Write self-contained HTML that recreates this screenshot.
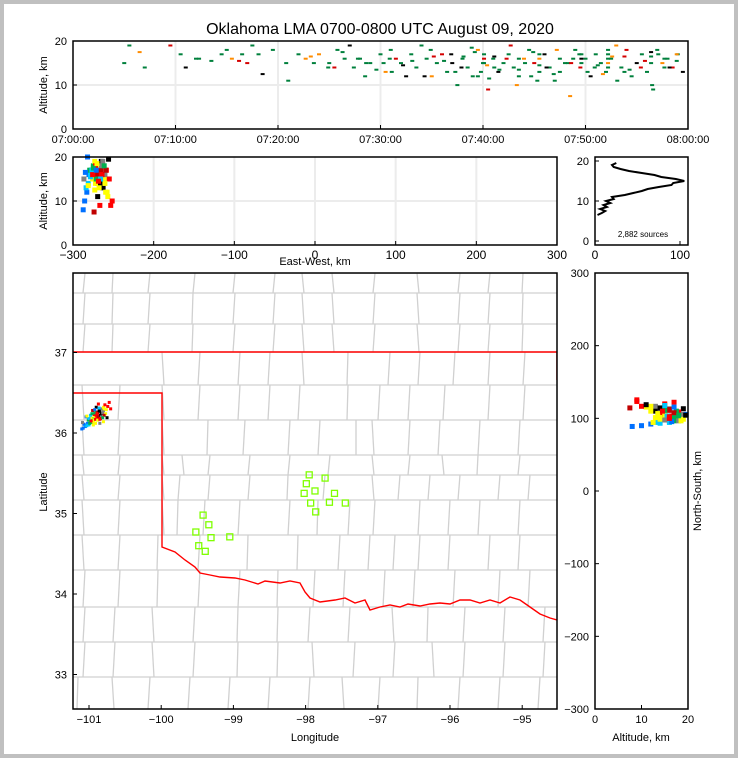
<!DOCTYPE html>
<html><head><meta charset="utf-8">
<style>
html,body{margin:0;padding:0;background:#c0c0c0}
#wrap{position:absolute;left:4px;top:4px;width:730px;height:750px;background:#fff}
svg{position:absolute;left:0;top:0}
text{font-family:"Liberation Sans",sans-serif;fill:#000}
</style></head><body>
<div id="wrap"></div>
<svg id="fig" width="738" height="758" viewBox="0 0 738 758">
<text x="380" y="34" font-size="16" text-anchor="middle">Oklahoma LMA 0700-0800 UTC August 09, 2020</text>
<g id="g-top"></g>
<g id="g-ew"></g>
<g id="g-hist"></g>
<g id="g-map"></g>
<g id="g-ns"></g>
</svg>
<script>
// ---- data ----
// top panel: source times (minutes after 07:00) and altitudes (km)
const topTimes = [5,5.5,6.5,7,9.5,10.5,11,12,13.5,14.5,15,15.5,16.5,17,17.5,18.5,19.5,21,22,23.5,24,25,25.5,26.5,27,28,28.5,29,30,30.5,31,31.5,32,32.5,33,33.5,34,34.5,35,35.5,36,36.5,37,37.5,38,38.5,39,39.5,40,40.5,41,41.5,42,42.5,43,43.5,44,44.5,45,45.5,46,46.5,47,47.5,48,48.5,49,49.5,50,50.5,51,51.5,52,52.5,53,53.5,54,54.5,55,55.5,56,56.5,57,57.5,58,58.5,59,59.5,
36.2,37.3,38.1,39.2,40.4,41.6,42.3,44.1,46.2,47.5,48.3,49.4,51.2,52.6,54.3,55.8,57.1,58.2,39.5,40.6,48.8,50.2,51.7,53.1,55.4,56.6,34.3,31.1,29.6,27.4,45.3,43.3,
40.1,40.1,40.1,41.1,41.1,43.5,43.5,45.5,45.5,45.5,48.6,49.6,49.6,49.6,52.2,52.2,52.2,52.2,52.2,53.8,53.8,56.4,56.4,56.4,57.7,57.7,58.9,58.9,35.2,33.1,32.2,30.9,28.6,26.3,24.9,22.7,20.8,16.2,12.3,37.9,39.8,44.7,46.9,50.9,47.2,44.9,42.7,38.9,36.9,34.9,30.3,27.8,25.8,23.2,18.1];
const topAlts  = [15,19,17.5,14,19,17,14,16,15.5,17,18,16,17,15,19,12.5,18,11,17,15,17,15,14,16,19,16,12,15,17,13,18,16,15,12,17,14,19,16,12,15,17,13,15,10,16,14,12,18,15,9,16,13,15,17,14,12,16,18,15,13,17,14,11,16,15,7.5,18,14,16,12,17,15,13,16,19,14,18,12,15,17,13,10,18,15,16,14,17,13,
15.5,13,16.5,17.5,14.5,13.5,16,15,14,13,15,17,14.5,16.5,13.5,15.5,17,14,12,11.5,16,13,12.5,11,14,9,12,13,13.5,14,11,10,
17,16,15,16.5,14,16,13.5,17,16,14.5,15,17,16,15,18,17,16,15,14,16.5,13,17.5,16.5,15,16,14,17,15.5,16.5,15.5,14.5,16,15,17.5,14,16,15,15.5,16,14,13,12,12.5,14,18,17.5,19,18.5,17,18,15,16,18,16.5,17];
const topColors = ["#00803c","#00803c","#ff8c00","#00803c","#d40000","#00803c","#000000","#00803c","#00803c"];
// storm sources (plan/projection views): longitude, latitude, altitude km
const srcLon = [-101.02,-100.98,-100.95,-100.92,-100.9,-100.88,-100.85,-100.82,-100.8,-100.78,-101.05,-101.0,-100.96,-100.93,-100.89,-100.86,-100.83,-100.8,-100.76,-100.74,-101.08,-101.03,-100.99,-100.94,-100.91,-100.87,-100.84,-100.81,-100.79,-100.72,-101.1,-101.06,-101.01,-100.97,-100.93,-100.9,-100.86,-100.83,-100.77,-100.7,-101.04,-100.98,-100.92,-100.88,-100.84,-100.95,-100.9,-100.85,-100.8,-100.87,
-101.07,-101.0,-100.96,-100.91,-100.85,-100.79,-100.75,-101.09,-101.03,-100.97,-100.92,-100.86,-100.81,-100.94,-100.89];
const srcLat = [36.12,36.15,36.18,36.2,36.22,36.25,36.27,36.3,36.32,36.35,36.08,36.1,36.13,36.16,36.19,36.21,36.24,36.27,36.29,36.33,36.06,36.09,36.12,36.14,36.17,36.2,36.22,36.25,36.3,36.38,36.05,36.1,36.16,36.19,36.23,36.26,36.28,36.2,36.24,36.3,36.2,36.22,36.25,36.16,36.18,36.28,36.32,36.12,36.14,36.36,
36.11,36.18,36.24,36.12,36.17,36.22,36.19,36.13,36.21,36.15,36.29,36.31,36.19,36.1,36.24];
const srcAlt = [16,17,15,18,14,16,19,13,15,17,12,16,18,14,15,17,13,16,11,15,10,14,17,19,16,15,18,14,12,9,8,13,17,15,18,16,14,19,12,10,20,17,15,13,16,7.5,11,18,14,9,
16.5,15.5,17.5,18.5,16,17,19.5,15,13.5,16,17,15,18,12.5,14.5];
const srcColors = ["#0070ff","#00c8ff","#00b050","#ffff00","#ff0000","#c00000","#000000","#808080","#ffff00","#ff0000"];
// altitude histogram (counts per km)
const histAlt = [6.5,7,7.5,8,8.5,9,9.5,10,10.5,11,11.5,12,12.5,13,13.5,14,14.5,15,15.5,16,16.5,17,17.5,18,18.5,19,19.5];
const histCnt = [3,8,12,6,14,10,18,13,22,20,35,45,55,62,75,90,92,105,95,78,70,55,40,30,22,20,25];
// network stations (lon, lat)
const staLon = [-97.95,-97.73,-97.99,-98.02,-97.87,-97.6,-97.67,-97.93,-97.45,-97.86,-99.42,-99.34,-99.52,-99.31,-99.05,-99.48,-99.39];
const staLat = [35.48,35.44,35.37,35.25,35.28,35.25,35.14,35.13,35.13,35.02,34.98,34.86,34.77,34.7,34.71,34.6,34.53];
const minTicks = ["07:00:00","07:10:00","07:20:00","07:30:00","07:40:00","07:50:00","08:00:00"];
const ewTicks = [-300,-200,-100,0,100,200,300];
const lonTicks = [-101,-100,-99,-98,-97,-96,-95];
const latTicks = [33,34,35,36,37];
const nsTicks = [-300,-200,-100,0,100,200,300];

// ---- helpers ----
const NS="http://www.w3.org/2000/svg";
function mk(parent,tag,attrs){const e=document.createElementNS(NS,tag);for(const k in attrs)e.setAttribute(k,attrs[k]);parent.appendChild(e);return e;}
function txt(parent,x,y,s,size,anchor,extra){const t=mk(parent,"text",Object.assign({x:x,y:y,"font-size":size,"text-anchor":anchor},extra||{}));t.textContent=s;return t;}
const lin=(d0,d1,r0,r1)=>v=>r0+(v-d0)*(r1-r0)/(d1-d0);

const tX=lin(0,60,73,688), tY=lin(0,20,129,41);
const eX=lin(-300,300,73,557), eY=lin(0,20,245,157);
const hX=lin(0,100,595,680), hY=lin(0,20,241,161);
const mX=lin(-101,-100,89,161.2), mY=lin(36,37,433,352.5);
const nX=lin(0,20,595,688), nY=lin(-300,300,709,273);
const toEW=lon=>(lon+97.9)*89.8, toNS=lat=>(lat-35.25)*111;

// ---- top panel ----
const gTop=document.getElementById("g-top");
for(let i=1;i<6;i++){const l=mk(gTop,"line",{x1:tX(i*10),x2:tX(i*10),y1:41,y2:129,stroke:"#ececec","stroke-width":2});

}
{const l=mk(gTop,"line",{x1:73,x2:688,y1:tY(10),y2:tY(10),stroke:"#ececec","stroke-width":2});

}
topTimes.forEach((t,i)=>{const r=mk(gTop,"rect",{x:tX(t)-2,y:tY(topAlts[i])-0.9,width:4,height:2,fill:topColors[i%topColors.length]});

});
mk(gTop,"rect",{x:73,y:41,width:615,height:88,fill:"none",stroke:"#000","stroke-width":1.5});
minTicks.forEach((s,i)=>{const x=tX(i*10);mk(gTop,"line",{x1:x,x2:x,y1:129,y2:125,stroke:"#000"});
const t=txt(gTop,x,143,s,11,"middle");});
[0,10,20].forEach(v=>{mk(gTop,"line",{x1:73,x2:77,y1:tY(v),y2:tY(v),stroke:"#000"});
const t=txt(gTop,67,tY(v)+4,v,11,"end");});
{const t=txt(gTop,47,85,"Altitude, km",11,"middle",{transform:"rotate(-90 47 85)"});}

// ---- east-west panel ----
const gE=document.getElementById("g-ew");
ewTicks.forEach(v=>{if(v>-300&&v<300){const l=mk(gE,"line",{x1:eX(v),x2:eX(v),y1:157,y2:245,stroke:"#ececec","stroke-width":2});
}});
mk(gE,"line",{x1:73,x2:557,y1:eY(10),y2:eY(10),stroke:"#ececec","stroke-width":2});
srcLon.forEach((lon,i)=>{const r=mk(gE,"rect",{x:eX(toEW(lon))-2.5,y:eY(srcAlt[i])-2.5,width:5,height:5,fill:srcColors[i%srcColors.length]});
});
mk(gE,"rect",{x:73,y:157,width:484,height:88,fill:"none",stroke:"#000","stroke-width":1.5});
ewTicks.forEach(v=>{const x=eX(v);mk(gE,"line",{x1:x,x2:x,y1:245,y2:241,stroke:"#000"});
const t=txt(gE,x,259,(v<0?"\u2212"+(-v):v),12,"middle");});
[0,10,20].forEach(v=>{mk(gE,"line",{x1:73,x2:77,y1:eY(v),y2:eY(v),stroke:"#000"});
const t=txt(gE,67,eY(v)+4,v,11,"end");});
{const t=txt(gE,47,201,"Altitude, km",11,"middle",{transform:"rotate(-90 47 201)"});}
{const t=txt(gE,315,265,"East-West, km",11,"middle");}

// ---- histogram panel ----
const gH=document.getElementById("g-hist");
{let d="";histAlt.forEach((a,i)=>{d+=(i?"L":"M")+hX(histCnt[i]).toFixed(1)+","+hY(a).toFixed(1);});
const p=mk(gH,"path",{d:d,fill:"none",stroke:"#000","stroke-width":2});
}
mk(gH,"rect",{x:595,y:157,width:93,height:88,fill:"none",stroke:"#000","stroke-width":1.5});
[0,10,20].forEach(v=>{mk(gH,"line",{x1:595,x2:599,y1:hY(v),y2:hY(v),stroke:"#000"});
const t=txt(gH,589,hY(v)+4,v,11,"end");});
[0,100].forEach(v=>{mk(gH,"line",{x1:hX(v),x2:hX(v),y1:245,y2:241,stroke:"#000"});
const t=txt(gH,hX(v),259,v,12,"middle");});
{const t=txt(gH,643,237,"2,882 sources",8,"middle");}

// ---- map panel ----
const gM=document.getElementById("g-map");
{const cp=mk(gM,"clipPath",{id:"mapclip"});mk(cp,"rect",{x:73,y:273,width:484,height:436});}
const gC=mk(gM,"g",{"clip-path":"url(#mapclip)"});

const rows=[[273,293,[85,113,150,195,235,275,302,332,375,417,460,490,523]],[293,324,[85,113,150,193,235,275,302,332,375,417,460,490,523]],[324,352,[85,113,150,193,235,275,302,332,375,417,460,490,523]],
[352,385,[162,200,240,270,302,348,390,420,455,490,525]],[385,420,[82,120,162,200,240,270,300,348,380,410,445,490,525]],[420,455,[82,120,162,208,245,290,320,356,372,410,440,480,520]],
[455,475,[82,120,162,182,210,250,290,330,372,410,442,478,520]],[475,500,[82,120,162,180,210,250,288,325,372,400,430,460,500,530]],[500,535,[82,120,162,178,205,240,290,318,350,375,420,450,480,520]],
[535,570,[82,120,158,200,248,298,340,370,395,420,450,490,520]],[570,607,[85,120,158,200,240,278,315,345,385,415,455,500,530]],[607,642,[85,115,152,195,238,278,310,350,392,428,465,505,545]],
[642,677,[85,115,152,195,238,278,312,355,395,432,465,505,545]],[677,709,[78,112,150,190,230,270,310,342,380,418,460,500,540]]];
rows.forEach(r=>{mk(gC,"line",{x1:73,x2:557,y1:r[0],y2:r[0],stroke:"#d0d0d0","stroke-width":1.3});
r[2].forEach(x=>mk(gC,"line",{x1:x,x2:x+((x*7)%5-2),y1:r[0],y2:r[1],stroke:"#d0d0d0","stroke-width":1.3}));});
{const d="M73,352L557,352L557,380 M73,393L162,393L162,547L175,552L185,560L195,567L200,573L210,575L220,577L235,578L245,580L258,584L265,581L280,583L290,581L300,583L305,592L310,598L320,602L335,600L345,598L355,603L365,600L370,610L380,607L390,605L400,607L408,604L420,606L430,604L440,603L450,604L460,600L470,600L480,603L490,600L500,603L510,597L520,600L530,607L540,614L550,618L557,620";
const p=mk(gC,"path",{d:d,fill:"none",stroke:"#ff0000","stroke-width":1.4});}
srcLon.forEach((lon,i)=>{const r=mk(gC,"rect",{x:mX(lon)-1.5,y:mY(srcLat[i])-1.5,width:3,height:3,fill:srcColors[i%srcColors.length]});
});
staLon.forEach((lon,i)=>{const r=mk(gC,"rect",{x:mX(lon)-3,y:mY(staLat[i])-3,width:6,height:6,fill:"none",stroke:"#7fff00","stroke-width":1.3});
});
mk(gM,"rect",{x:73,y:273,width:484,height:436,fill:"none",stroke:"#000","stroke-width":1.5});
lonTicks.forEach(v=>{const x=mX(v);mk(gM,"line",{x1:x,x2:x,y1:709,y2:705,stroke:"#000"});
const t=txt(gM,x,723,(v<0?"\u2212"+(-v):v),11,"middle");});
latTicks.forEach(v=>{const y=mY(v);mk(gM,"line",{x1:73,x2:77,y1:y,y2:y,stroke:"#000"});
const t=txt(gM,67,y+4,v,11,"end");});
{const t=txt(gM,315,741,"Longitude",11,"middle");}
{const t=txt(gM,47,492,"Latitude",11,"middle",{transform:"rotate(-90 47 492)"});}

// ---- north-south panel ----
const gN=document.getElementById("g-ns");
srcLat.forEach((lat,i)=>{const r=mk(gN,"rect",{x:nX(Math.min(srcAlt[i],19.6))-2.5,y:nY(toNS(lat))-2.5,width:5,height:5,fill:srcColors[i%srcColors.length]});
});
mk(gN,"rect",{x:595,y:273,width:93,height:436,fill:"none",stroke:"#000","stroke-width":1.5});
nsTicks.forEach(v=>{const y=nY(v);mk(gN,"line",{x1:595,x2:599,y1:y,y2:y,stroke:"#000"});
const t=txt(gN,589,y+4,(v<0?"\u2212"+(-v):v),11,"end");});
[0,10,20].forEach(v=>{mk(gN,"line",{x1:nX(v),x2:nX(v),y1:709,y2:705,stroke:"#000"});
const t=txt(gN,nX(v),723,v,11,"middle");});
{const t=txt(gN,641,741,"Altitude, km",11,"middle");}
{const t=txt(gN,701,491,"North-South, km",11,"middle",{transform:"rotate(-90 701 491)"});}
</script>
</body></html>
